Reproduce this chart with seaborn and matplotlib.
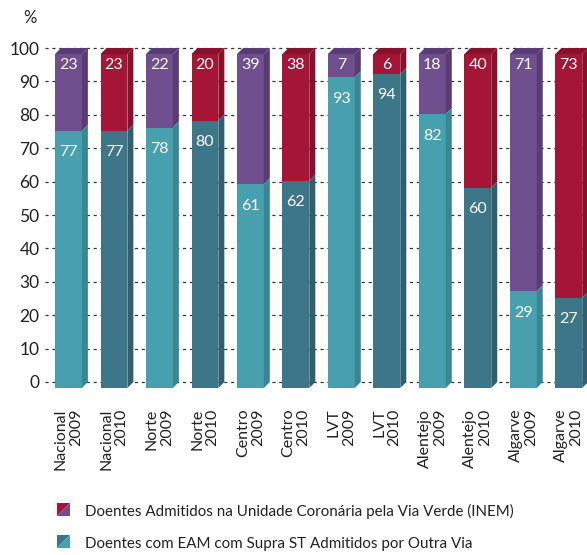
import numpy as np
import pandas as pd
import matplotlib
matplotlib.use("Agg")
import matplotlib.pyplot as plt
from matplotlib.patches import Polygon
from matplotlib.legend_handler import HandlerBase
import seaborn as sns

sns.set_theme(style="white")
plt.rcParams['font.family'] = ['Lato', 'DejaVu Sans']

# data
regions = ["Nacional", "Nacional", "Norte", "Norte", "Centro", "Centro",
           "LVT", "LVT", "Alentejo", "Alentejo", "Algarve", "Algarve"]
years = ["2009", "2010"] * 6
via_verde = [23, 23, 22, 20, 39, 38, 7, 6, 18, 40, 71, 73]
outra_via = [77, 77, 78, 80, 61, 62, 93, 94, 82, 60, 29, 27]
legend_labels = ["Doentes Admitidos na Unidade Coronária pela Via Verde (INEM)",
                 "Doentes com EAM com Supra ST Admitidos por Outra Via"]

# colours (front, side) per year
top_cols = {"2009": ("#6f4f8d", "#5a3c75"), "2010": ("#a51535", "#87112d")}
bot_cols = {"2009": ("#48a0ae", "#3a8794"), "2010": ("#3e7689", "#305f70")}

df = pd.DataFrame({"region": regions, "year": years,
                   "via_verde": via_verde, "outra_via": outra_via})
df["label"] = df["region"] + "\n" + df["year"]
df["total"] = df["via_verde"] + df["outra_via"]

depth_y = 1.8    # 3d depth in data units
depth_x = 0.132
bar_w = 0.59

fig = plt.figure(figsize=(5.87, 5.55), dpi=100)
ax = fig.add_axes([45 / 587, 165 / 555, 542 / 587, 350 / 555])

sns.barplot(data=df, x="label", y="total", hue="label",
            palette=[top_cols[y][0] for y in years], legend=False, saturation=1,
            width=bar_w, errorbar=None, bottom=-depth_y, linewidth=0,
            ax=ax, zorder=3)
sns.barplot(data=df, x="label", y="outra_via", hue="label",
            palette=[bot_cols[y][0] for y in years], legend=False, saturation=1,
            width=bar_w, errorbar=None, bottom=-depth_y, linewidth=0,
            ax=ax, zorder=3)

# 3d side and top faces
for i, row in df.iterrows():
    x0 = i - bar_w / 2
    x1 = i + bar_w / 2
    yb = -depth_y
    ym = row["outra_via"] - depth_y
    yt = row["total"] - depth_y
    ts, bs = top_cols[row["year"]][1], bot_cols[row["year"]][1]
    ax.add_patch(Polygon([(x1, ym), (x1 + depth_x, ym + depth_y),
                          (x1 + depth_x, yt + depth_y), (x1, yt)],
                         closed=True, fc=ts, ec="none", zorder=3))
    ax.add_patch(Polygon([(x1, yb), (x1 + depth_x, yb + depth_y),
                          (x1 + depth_x, ym + depth_y), (x1, ym)],
                         closed=True, fc=bs, ec="none", zorder=3))
    ax.add_patch(Polygon([(x0, yt), (x0 + depth_x, yt + depth_y),
                          (x1 + depth_x, yt + depth_y), (x1, yt)],
                         closed=True, fc=ts, ec="none", zorder=3))
    ax.text(i, yt - 3.3, str(row["via_verde"]), color="white",
            ha="center", va="center", fontsize=11.5, zorder=4)
    ax.text(i, ym - 6.4, str(row["outra_via"]), color="white",
            ha="center", va="center", fontsize=11.5, zorder=4)

ax.set_ylim(-2.4, 102.4)
ax.set_xlim(-0.516, 11.4)
ax.set_yticks(range(0, 101, 10))
ax.yaxis.grid(True, color="#333333", linestyle=(0, (2.5, 3)), linewidth=0.9, zorder=0)
ax.xaxis.grid(False)
ax.set_axisbelow(True)
for s in ax.spines.values():
    s.set_visible(False)
ax.set_xticks(range(len(df)))
ax.set_xticklabels(df["label"], rotation=90, rotation_mode="default",
                   ha="center", va="top",
                   multialignment="right", fontsize=11.5, color="#222222",
                   linespacing=1.12)
ax.tick_params(axis="y", length=0, pad=4, labelsize=12.5, labelcolor="#222222")
ax.tick_params(axis="x", length=0, pad=13.5)
ax.set_xlabel("")
ax.set_ylabel("")

fig.text(30 / 587, 1 - 18 / 555, "%", ha="center", va="center",
         fontsize=12, color="#222222")


class SplitSquare(HandlerBase):
    def create_artists(self, legend, orig_handle, xd, yd, w, h, fontsize, trans):
        c1, c2 = orig_handle
        s = h
        y0 = (h - s) / 2
        a = Polygon([(0, y0), (0, y0 + s), (s, y0 + s)], closed=True, fc=c1,
                    ec="none", transform=trans)
        b = Polygon([(0, y0), (s, y0), (s, y0 + s)], closed=True, fc=c2,
                    ec="none", transform=trans)
        return [a, b]


handles = [(top_cols["2010"][0], top_cols["2009"][0]),
           (bot_cols["2010"][0], bot_cols["2009"][0])]
fig.legend(handles, legend_labels, handler_map={tuple: SplitSquare()},
           loc="upper left", bbox_to_anchor=(57 / 587, 1 - 504 / 555),
           borderpad=0, borderaxespad=0,
           frameon=False, fontsize=10.9, handlelength=0.9, handleheight=0.9,
           handletextpad=0.95, labelspacing=1.15, labelcolor="#222222")

fig.savefig("out.png", dpi=100)
